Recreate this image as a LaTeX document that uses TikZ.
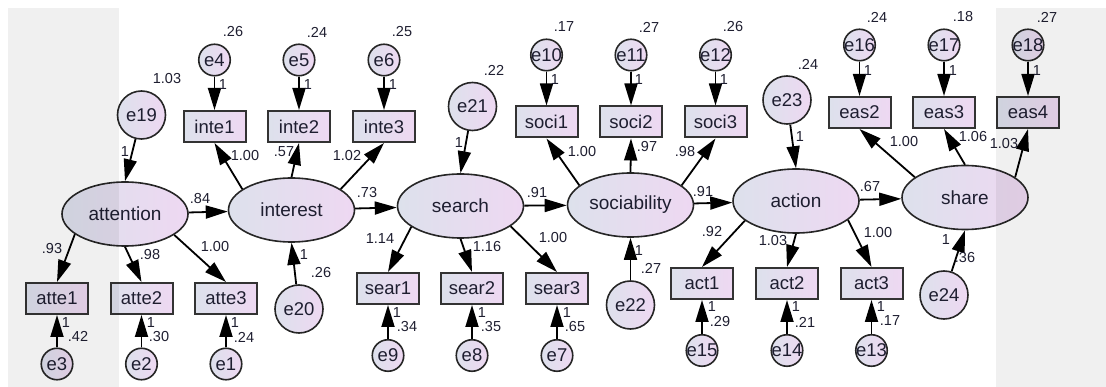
\documentclass[tikz,border=0pt]{standalone}
\usepackage{fontspec}
\setmainfont{Liberation Sans}
\usetikzlibrary{arrows.meta,shapes.geometric}
\definecolor{fillL}{RGB}{221,225,236}
\definecolor{fillR}{RGB}{238,216,242}
\definecolor{ink}{RGB}{30,30,48}

\begin{document}
\begin{tikzpicture}[x=1pt,y=-1pt,
  lat/.style={ellipse,draw=black!85,line width=1.6pt,minimum width=126pt,minimum height=64pt,inner sep=0pt,left color=fillL,right color=fillR,text=ink,font=\fontsize{19}{19}\selectfont},
  obs/.style={rectangle,draw=black!80,line width=2pt,minimum width=62pt,minimum height=31pt,inner sep=0pt,left color=fillL,right color=fillR,text=ink,font=\fontsize{18.5}{18.5}\selectfont},
  err/.style={circle,draw=black!85,line width=1.6pt,minimum size=31.5pt,inner sep=-5pt,left color=fillL,right color=fillR,text=ink,font=\fontsize{18.5}{18.5}\selectfont},
  dist/.style={err,minimum size=48pt},
  num/.style={inner sep=0pt,text=ink,font=\fontsize{14.5}{14.5}\selectfont},
  arr/.style={-{Triangle[length=22pt,width=13pt]},line width=1.8pt}]
\useasboundingbox (0,0) rectangle (1106,387);

\draw (125,214) node[lat] (attention) {attention};
\draw (291.5,210) node[lat] (interest) {interest};
\draw (460.5,206) node[lat] (search) {search};
\draw (630.5,205) node[lat] (sociability) {sociability};
\draw (796,201) node[lat] (action) {action};
\draw (965,197.5) node[lat] (share) {share};

\draw (57,298.5) node[obs] (atte1) {atte1};
\draw (141.5,298.5) node[obs] (atte2) {atte2};
\draw (226,298.5) node[obs] (atte3) {atte3};
\draw (214.5,126.5) node[obs] (inte1) {inte1};
\draw (299,126.5) node[obs] (inte2) {inte2};
\draw (384,126.5) node[obs] (inte3) {inte3};
\draw (388,288.5) node[obs] (sear1) {sear1};
\draw (472,288.5) node[obs] (sear2) {sear2};
\draw (557,288.5) node[obs] (sear3) {sear3};
\draw (546.5,122) node[obs] (soci1) {soci1};
\draw (631,122) node[obs] (soci2) {soci2};
\draw (715.5,122) node[obs] (soci3) {soci3};
\draw (702,283.5) node[obs] (act1) {act1};
\draw (787,283.5) node[obs] (act2) {act2};
\draw (871.5,283.5) node[obs] (act3) {act3};
\draw (859.5,112.5) node[obs] (eas2) {eas2};
\draw (944,112.5) node[obs] (eas3) {eas3};
\draw (1028,112.5) node[obs] (eas4) {eas4};

\draw (226,364) node[err] (e1) {e1};
\draw (141.5,364) node[err] (e2) {e2};
\draw (57,364) node[err] (e3) {e3};
\draw (214.5,60) node[err] (e4) {e4};
\draw (299,60) node[err] (e5) {e5};
\draw (384,60) node[err] (e6) {e6};
\draw (557,355.5) node[err] (e7) {e7};
\draw (472,355.5) node[err] (e8) {e8};
\draw (388,355.5) node[err] (e9) {e9};
\draw (546.5,55) node[err] (e10) {e10};
\draw (631,55) node[err] (e11) {e11};
\draw (715.5,55) node[err] (e12) {e12};
\draw (871.5,350.5) node[err] (e13) {e13};
\draw (787,350.5) node[err] (e14) {e14};
\draw (702,350.5) node[err] (e15) {e15};
\draw (859.5,45) node[err] (e16) {e16};
\draw (944,45) node[err] (e17) {e17};
\draw (1028,45) node[err] (e18) {e18};
\draw (141.5,115) node[dist] (e19) {e19};
\draw (299,309) node[dist] (e20) {e20};
\draw (472.5,106.5) node[dist] (e21) {e21};
\draw (630.5,305) node[dist] (e22) {e22};
\draw (787,100) node[dist] (e23) {e23};
\draw (944,295) node[dist] (e24) {e24};

\draw[arr] (attention) -- (interest);
\draw[arr] (interest) -- (search);
\draw[arr] (search) -- (sociability);
\draw[arr] (sociability) -- (action);
\draw[arr] (action) -- (share);
\draw[arr] (attention.202) -- (atte1.north);
\draw[arr] (attention.270) -- (atte2.north);
\draw[arr] (attention.337) -- (atte3.north);
\draw[arr] (interest.157) -- (inte1.south);
\draw[arr] (interest.90) -- (inte2.south);
\draw[arr] (interest.23) -- (inte3.south);
\draw[arr] (search.203) -- (sear1.north);
\draw[arr] (search.270) -- (sear2.north);
\draw[arr] (search.338) -- (sear3.north);
\draw[arr] (sociability.159) -- (soci1.south);
\draw[arr] (sociability.90) -- (soci2.south);
\draw[arr] (sociability.21) -- (soci3.south);
\draw[arr] (action.201) -- (act1.north);
\draw[arr] (action.270) -- (act2.north);
\draw[arr] (action.340) -- (act3.north);
\draw[arr] (share.158) -- (eas2.south);
\draw[arr] (share.90) -- (eas3.south);
\draw[arr] (share.22) -- (eas4.south);
\draw[arr] (e1) -- (atte3);
\draw[arr] (e2) -- (atte2);
\draw[arr] (e3) -- (atte1);
\draw[arr] (e4) -- (inte1);
\draw[arr] (e5) -- (inte2);
\draw[arr] (e6) -- (inte3);
\draw[arr] (e7) -- (sear3);
\draw[arr] (e8) -- (sear2);
\draw[arr] (e9) -- (sear1);
\draw[arr] (e10) -- (soci1);
\draw[arr] (e11) -- (soci2);
\draw[arr] (e12) -- (soci3);
\draw[arr] (e13) -- (act3);
\draw[arr] (e14) -- (act2);
\draw[arr] (e15) -- (act1);
\draw[arr] (e16) -- (eas2);
\draw[arr] (e17) -- (eas3);
\draw[arr] (e18) -- (eas4);
\draw[arr] (e19) -- (attention.north);
\draw[arr] (e20) -- (interest.south);
\draw[arr] (e21) -- (search.north);
\draw[arr] (e22) -- (sociability.south);
\draw[arr] (e23) -- (action.north);
\draw[arr] (e24) -- (share.south);

\draw (244,337) node[num] (v1) {.24};
\draw (159,337) node[num] (v2) {.30};
\draw (78,336) node[num] (v3) {.42};
\draw (233,32) node[num] (v4) {.26};
\draw (317,32) node[num] (v5) {.24};
\draw (402,32) node[num] (v6) {.25};
\draw (575,327) node[num] (v7) {.65};
\draw (491,327) node[num] (v8) {.35};
\draw (407,327) node[num] (v9) {.34};
\draw (564,27) node[num] (v10) {.17};
\draw (649,27) node[num] (v11) {.27};
\draw (733,27) node[num] (v12) {.26};
\draw (890,321) node[num] (v13) {.17};
\draw (805,322) node[num] (v14) {.21};
\draw (720,322) node[num] (v15) {.29};
\draw (877,17) node[num] (v16) {.24};
\draw (963,17) node[num] (v17) {.18};
\draw (1047,17) node[num] (v18) {.27};
\draw (167,79) node[num] (v19) {1.03};
\draw (321,273) node[num] (v20) {.26};
\draw (494,70) node[num] (v21) {.22};
\draw (651,268) node[num] (v22) {.27};
\draw (808,64) node[num] (v23) {.24};
\draw (965,258) node[num] (v24) {.36};

\draw (235,323) node[num] (w1) {1};
\draw (151,323) node[num] (w2) {1};
\draw (66,323) node[num] (w3) {1};
\draw (223,85) node[num] (w4) {1};
\draw (308,85) node[num] (w5) {1};
\draw (393,85) node[num] (w6) {1};
\draw (567,313) node[num] (w7) {1};
\draw (482,313) node[num] (w8) {1};
\draw (397,313) node[num] (w9) {1};
\draw (555,80) node[num] (w10) {1};
\draw (639,80) node[num] (w11) {1};
\draw (724,80) node[num] (w12) {1};
\draw (881,307) node[num] (w13) {1};
\draw (796,307) node[num] (w14) {1};
\draw (712,307) node[num] (w15) {1};
\draw (868,71) node[num] (w16) {1};
\draw (953,71) node[num] (w17) {1};
\draw (1037,71) node[num] (w18) {1};
\draw (125,152) node[num] (w19) {1};
\draw (304,255) node[num] (w20) {1};
\draw (459,143) node[num] (w21) {1};
\draw (639,251) node[num] (w22) {1};
\draw (800,137) node[num] (w23) {1};
\draw (946,240) node[num] (w24) {1};

\draw (200,199) node[num] (b1) {.84};
\draw (367,193) node[num] (b2) {.73};
\draw (537,193) node[num] (b3) {.91};
\draw (703,192) node[num] (b4) {.91};
\draw (870,187) node[num] (b5) {.67};
\draw (52,249) node[num] (l1) {.93};
\draw (150,255) node[num] (l2) {.98};
\draw (215,247) node[num] (l3) {1.00};
\draw (245,156) node[num] (l4) {1.00};
\draw (284,152) node[num] (l5) {.57};
\draw (347,156) node[num] (l6) {1.02};
\draw (380,239) node[num] (l7) {1.14};
\draw (487,247) node[num] (l8) {1.16};
\draw (553,238) node[num] (l9) {1.00};
\draw (582,152) node[num] (l10) {1.00};
\draw (647,147) node[num] (l11) {.97};
\draw (685,152) node[num] (l12) {.98};
\draw (712,232) node[num] (l13) {.92};
\draw (773,241) node[num] (l14) {1.03};
\draw (878,233) node[num] (l15) {1.00};
\draw (904,142) node[num] (l16) {1.00};
\draw (973,137) node[num] (l17) {1.06};
\draw (1004,144) node[num] (l18) {1.03};

\fill[black,fill opacity=0.06] (8,8) rectangle (119,387);
\fill[black,fill opacity=0.06] (996,8) rectangle (1106,387);
\end{tikzpicture}
\end{document}
